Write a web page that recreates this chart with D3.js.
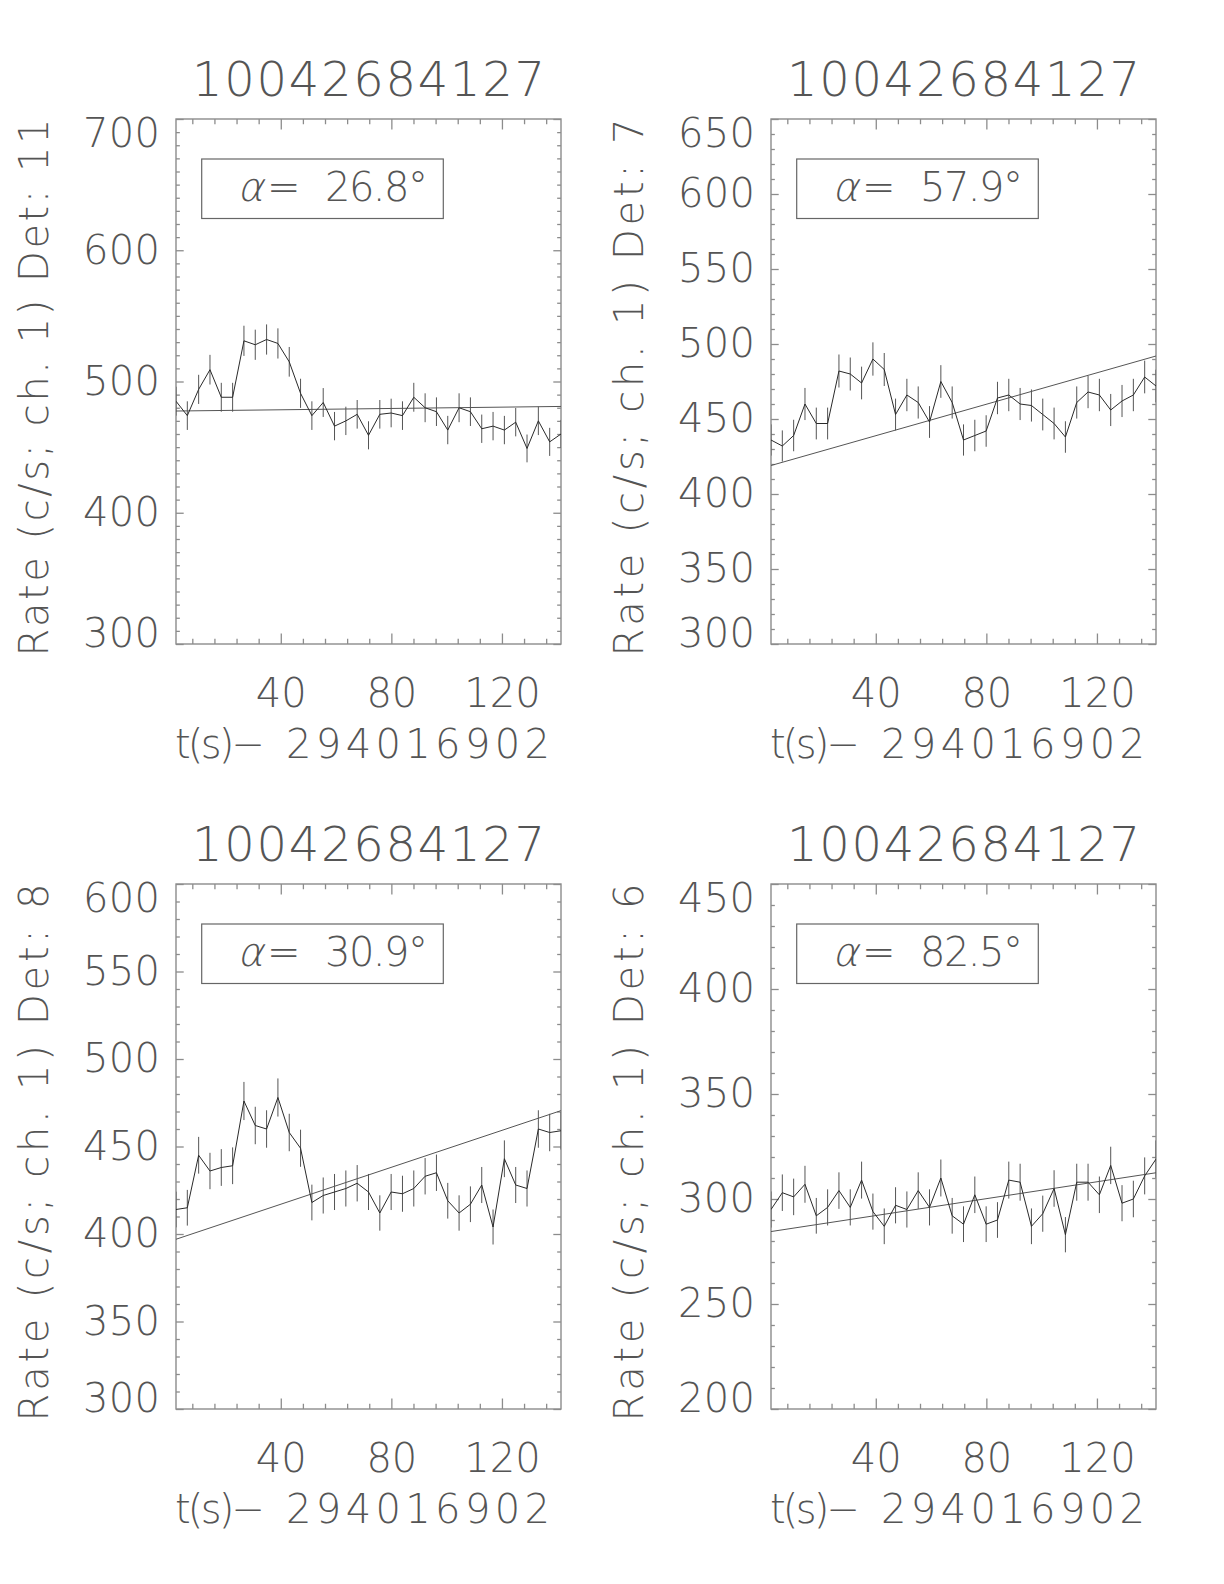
<!DOCTYPE html>
<html>
<head>
<meta charset="utf-8">
<script src="https://cdn.jsdelivr.net/npm/d3@7"></script>
<style>
  html, body { margin: 0; padding: 0; background: #fff; }
  svg { display: block; }
  text { font-family: "DejaVu Sans", "Liberation Sans", sans-serif; font-weight: 200; fill: #555; }
</style>
</head>
<body>
<svg id="chart" width="1224" height="1584"></svg>
<script>
// ---------------- data ----------------
const obsId = "10042684127";
const timeOffset = "294016902";
// bin times (s) relative to offset
const times = [2.100, 6.196, 10.292, 14.388, 18.484, 22.580, 26.676, 30.772, 34.868, 38.964,
  43.060, 47.156, 51.252, 55.348, 59.444, 63.540, 67.636, 71.732, 75.828, 79.924,
  84.020, 88.116, 92.212, 96.308, 100.404, 104.500, 108.596, 112.692, 116.788, 120.884,
  124.980, 129.076, 133.172, 137.268, 141.364];
const xTickLabels = [40, 80, 120];

const detectors = [11, 7, 8, 6];
const alphas = ["26.8", "57.9", "30.9", "82.5"];

const rateDet11 = [485, 474, 494, 509, 488, 488, 531, 528, 532, 529, 515, 491, 474, 484, 466, 470, 475, 459, 475, 476,
  474, 488, 480, 477, 463, 480, 477, 464, 466, 463, 469, 449, 470, 454, 460];
const errDet11 = [11.0, 10.9, 11.1, 11.3, 11.0, 11.0, 11.5, 11.5, 11.5, 11.5, 11.3, 11.1, 10.9, 11.0, 10.8, 10.8, 10.9, 10.7, 10.9, 10.9,
  10.9, 11.0, 11.0, 10.9, 10.8, 11.0, 10.9, 10.8, 10.8, 10.8, 10.8, 10.6, 10.8, 10.7, 10.7];
const fitDet11 = [477.5, 481];

const rateDet7 = [436, 432, 439, 460, 447, 447, 482, 480, 474, 490, 483, 453, 466, 461, 448, 475, 461, 436, 439, 442,
  464, 466, 460, 459, 453, 447, 438, 461, 468, 466, 456, 462, 466, 478, 472];
const errDet7 = [10.4, 10.4, 10.5, 10.7, 10.6, 10.6, 11.0, 11.0, 10.9, 11.1, 11.0, 10.6, 10.8, 10.7, 10.6, 10.9, 10.7, 10.4, 10.5, 10.5,
  10.8, 10.8, 10.7, 10.7, 10.6, 10.6, 10.5, 10.7, 10.8, 10.8, 10.7, 10.7, 10.8, 10.9, 10.9];
const fitDet7 = [419, 492];

const rateDet8 = [414, 415, 445, 436, 438, 439, 476, 462, 460, 478, 458, 449, 418, 422, 424, 426, 429, 424, 412, 424,
  423, 426, 433, 435, 419, 412, 417, 428, 404, 443, 428, 426, 460, 458, 459];
const errDet8 = [10.2, 10.2, 10.5, 10.4, 10.5, 10.5, 10.9, 10.7, 10.7, 10.9, 10.7, 10.6, 10.2, 10.3, 10.3, 10.3, 10.4, 10.3, 10.1, 10.3,
  10.3, 10.3, 10.4, 10.4, 10.2, 10.1, 10.2, 10.3, 10.0, 10.5, 10.3, 10.3, 10.7, 10.7, 10.7];
const fitDet8 = [397, 470.5];

const rateDet6 = [295, 303, 301, 307, 292, 296, 304, 296, 309, 294, 287, 297, 295, 304, 296, 310, 292, 288, 302, 288,
  290, 309, 308, 287, 293, 305, 283, 308, 308, 302, 316, 298, 300, 311, 319];
const errDet6 = [8.6, 8.7, 8.7, 8.8, 8.5, 8.6, 8.7, 8.6, 8.8, 8.6, 8.5, 8.6, 8.6, 8.7, 8.6, 8.8, 8.5, 8.5, 8.7, 8.5,
  8.5, 8.8, 8.8, 8.5, 8.6, 8.7, 8.4, 8.8, 8.8, 8.7, 8.9, 8.6, 8.7, 8.8, 8.9];
const fitDet6 = [284.5, 312.5];

const yDomains = [[300, 700], [300, 650], [300, 600], [200, 450]];
const yMajorSteps = [100, 50, 50, 50];

// ---------------- layout ----------------
const panelLeft = [176, 771, 176, 771];
const panelTop = [119, 119, 884, 884];
const PW = 385, PH = 525;

const rates = [rateDet11, rateDet7, rateDet8, rateDet6];
const errs = [errDet11, errDet7, errDet8, errDet6];
const fits = [fitDet11, fitDet7, fitDet8, fitDet6];

const svg = d3.select("#chart");
const axisColor = "#8c8c8c";
const lineColor = "#2a2a2a";

for (let p = 0; p < 4; p++) {
  const g = svg.append("g").attr("transform", `translate(${panelLeft[p]},${panelTop[p]})`);
  const x = d3.scaleLinear().domain([times[0], times[times.length - 1]]).range([0, PW]);
  const y = d3.scaleLinear().domain(yDomains[p]).range([PH, 0]);

  const yMajor = d3.range(yDomains[p][0], yDomains[p][1] + 0.001, yMajorSteps[p]);
  const yMinor = d3.range(yDomains[p][0], yDomains[p][1] + 0.001, 10).filter(v => !yMajor.includes(v));
  const xMinor = d3.range(8, 141, 8).filter(v => !xTickLabels.includes(v));

  const majX = 10.5, minX = 5.25, majY = 7.7, minY = 3.85;

  function styleAxis(sel) {
    sel.select(".domain").remove();
    sel.selectAll(".tick line").attr("stroke", axisColor).attr("stroke-width", 1.3);
    sel.selectAll("text").style("font-size", "40px").attr("fill", "#555");
  }

  // bottom axis with labels
  g.append("g").attr("transform", `translate(0,${PH})`)
    .call(d3.axisBottom(x).tickValues(xTickLabels).tickSize(-majX).tickPadding(35).tickFormat(d3.format("d")))
    .call(styleAxis);
  g.append("g").attr("transform", `translate(0,${PH})`)
    .call(d3.axisBottom(x).tickValues(xMinor).tickSize(-minX).tickFormat(""))
    .call(styleAxis);
  // top axis
  g.append("g")
    .call(d3.axisTop(x).tickValues(xTickLabels).tickSize(-majX).tickFormat(""))
    .call(styleAxis);
  g.append("g")
    .call(d3.axisTop(x).tickValues(xMinor).tickSize(-minX).tickFormat(""))
    .call(styleAxis);
  // left axis with labels
  const yl = g.append("g")
    .call(d3.axisLeft(y).tickValues(yMajor).tickSize(-majY).tickPadding(16).tickFormat(d3.format("d")))
    .call(styleAxis);
  yl.selectAll("text")
    .attr("textLength", 77).attr("lengthAdjust", "spacing")
    .attr("y", d => d === yDomains[p][1] ? 15 : (d === yDomains[p][0] ? -10 : 0));
  g.append("g")
    .call(d3.axisLeft(y).tickValues(yMinor).tickSize(-minY).tickFormat(""))
    .call(styleAxis);
  // right axis
  g.append("g").attr("transform", `translate(${PW},0)`)
    .call(d3.axisRight(y).tickValues(yMajor).tickSize(-majY).tickFormat(""))
    .call(styleAxis);
  g.append("g").attr("transform", `translate(${PW},0)`)
    .call(d3.axisRight(y).tickValues(yMinor).tickSize(-minY).tickFormat(""))
    .call(styleAxis);

  // box
  g.append("rect").attr("x", 0).attr("y", 0).attr("width", PW).attr("height", PH)
    .attr("fill", "none").attr("stroke", axisColor).attr("stroke-width", 1.4);

  const clipId = "clip" + p;
  g.append("clipPath").attr("id", clipId).append("rect")
    .attr("x", 0).attr("y", 0).attr("width", PW).attr("height", PH);
  const plot = g.append("g").attr("clip-path", `url(#${clipId})`);

  // fit line
  plot.append("path")
    .datum([[times[0], fits[p][0]], [times[times.length - 1], fits[p][1]]])
    .attr("d", d3.line().x(d => x(d[0])).y(d => y(d[1])))
    .attr("fill", "none").attr("stroke", "#555").attr("stroke-width", 1);

  // error bars
  plot.selectAll("line.err").data(rates[p]).enter().append("line")
    .attr("class", "err")
    .attr("x1", (d, i) => x(times[i])).attr("x2", (d, i) => x(times[i]))
    .attr("y1", (d, i) => y(d - errs[p][i])).attr("y2", (d, i) => y(d + errs[p][i]))
    .attr("stroke", "#555").attr("stroke-width", 1);

  // light curve
  plot.append("path").datum(rates[p])
    .attr("d", d3.line().x((d, i) => x(times[i])).y(d => y(d)))
    .attr("fill", "none").attr("stroke", lineColor).attr("stroke-width", 1);

  // alpha label box
  g.append("rect").attr("x", 25.7).attr("y", 40).attr("width", 241.6).attr("height", 59.5)
    .attr("fill", "none").attr("stroke", "#666").attr("stroke-width", 1.2);
  g.append("text").attr("transform", "translate(61,82) skewX(-14)")
    .style("font-size", "40px").text("α");
  g.append("text").attr("x", 91).attr("y", 82).style("font-size", "40px").text("=");
  g.append("text").attr("x", 149).attr("y", 82)
    .attr("textLength", 103).attr("lengthAdjust", "spacing")
    .style("font-size", "40px").text(alphas[p] + "°");

  // title
  g.append("text").attr("x", PW / 2).attr("y", -23).attr("text-anchor", "middle")
    .attr("textLength", 353).attr("lengthAdjust", "spacing")
    .style("font-size", "48px").text(obsId);

  // x title
  g.append("text").attr("x", -1).attr("y", PH + 114)
    .attr("textLength", 90).attr("lengthAdjust", "spacing")
    .style("font-size", "40px").text("t(s)\u2212");
  g.append("text").attr("x", 110).attr("y", PH + 114)
    .attr("textLength", 264).attr("lengthAdjust", "spacing")
    .style("font-size", "40px").text(timeOffset);

  // y title
  g.append("text")
    .attr("transform", `translate(${-128},${PH / 2 + 6}) rotate(-90)`)
    .attr("text-anchor", "middle")
    .attr("textLength", 538).attr("lengthAdjust", "spacing")
    .style("font-size", "40px").text("Rate (c/s; ch. 1) Det: " + detectors[p]);
}
</script>
</body>
</html>
